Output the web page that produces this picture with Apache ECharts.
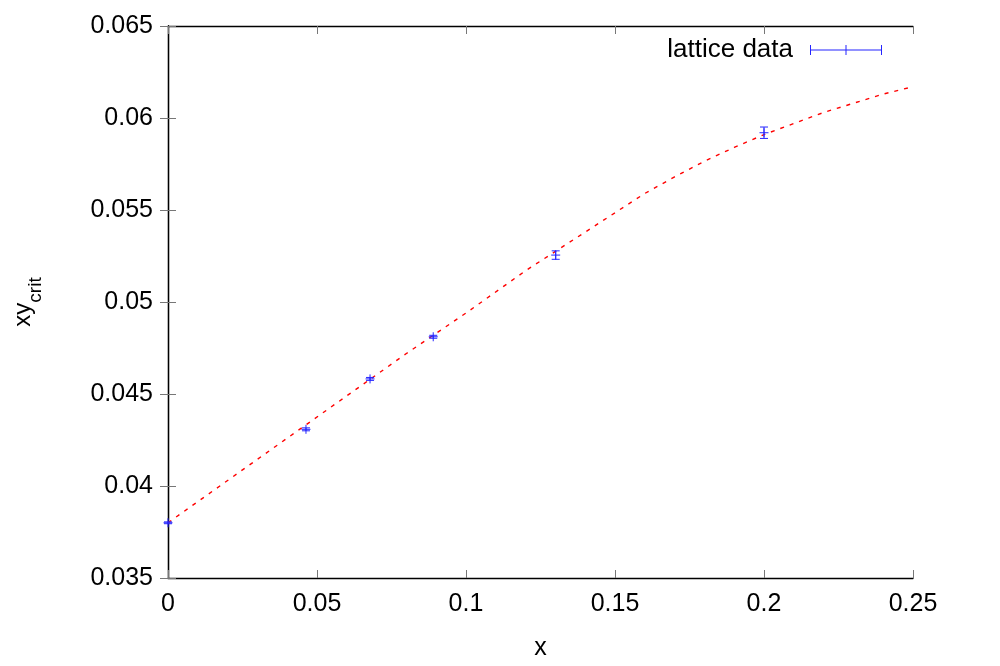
<!DOCTYPE html>
<html>
<head>
<meta charset="utf-8">
<script src="https://cdn.jsdelivr.net/npm/echarts@6/dist/echarts.min.js"></script>
<style>
  html, body { margin: 0; padding: 0; background: #fff; }
  #chart { width: 1000px; height: 666px; }
</style>
</head>
<body>
<div id="chart"></div>
<script>
// lattice points: x, xy_crit, error
var latticeX = [0, 0.0463, 0.0678, 0.0890, 0.1301, 0.2000];
var latticeY = [0.0380, 0.04308, 0.04582, 0.04811, 0.05255, 0.0592];
var latticeErr = [0.00005, 0.00008, 0.00008, 0.00008, 0.00023, 0.00031];

// fit curve
var fitX = [0, 0.02, 0.04, 0.06, 0.08, 0.10, 0.12, 0.14, 0.16, 0.17, 0.18, 0.19, 0.20, 0.22, 0.24, 0.25];
var fitY = [0.0380, 0.0403, 0.0426, 0.0449, 0.0472, 0.0494, 0.0517, 0.0538, 0.0559, 0.05680, 0.05765, 0.05840, 0.0591, 0.0603, 0.0613, 0.0617];

var xTicks = [0, 0.05, 0.1, 0.15, 0.2, 0.25];
var yTicks = [0.035, 0.04, 0.045, 0.05, 0.055, 0.06, 0.065];

var chart = echarts.init(document.getElementById('chart'));

var font = 'Liberation Sans, Arial, sans-serif';
var blue = '#2424ff';

var latticeData = latticeX.map(function (x, i) { return [x, latticeY[i], latticeErr[i]]; });
var fitData = fitX.map(function (x, i) { return [x, fitY[i]]; });

function renderErr(params, api) {
    var x = api.value(0), y = api.value(1), e = api.value(2);
    var c = api.coord([x, y]);
    var lo = api.coord([x, y - e]);
    var hi = api.coord([x, y + e]);
    var cap = 4, arm = 4.5;
    var st = { stroke: blue, lineWidth: 1 };
    return {
        type: 'group',
        children: [
            { type: 'line', shape: { x1: c[0], y1: lo[1], x2: c[0], y2: hi[1] }, style: st },
            { type: 'line', shape: { x1: c[0] - cap, y1: lo[1], x2: c[0] + cap, y2: lo[1] }, style: st },
            { type: 'line', shape: { x1: c[0] - cap, y1: hi[1], x2: c[0] + cap, y2: hi[1] }, style: st },
            { type: 'line', shape: { x1: c[0] - arm, y1: c[1], x2: c[0] + arm, y2: c[1] }, style: st },
            { type: 'line', shape: { x1: c[0], y1: c[1] - arm, x2: c[0], y2: c[1] + arm }, style: st }
        ]
    };
}

function fmt(v) { return String(+v.toFixed(3)); }

var tickStyle = { show: true, inside: true, length: 8, lineStyle: { color: '#777', width: 1 } };
var lineStyle = { show: true, lineStyle: { color: '#000', width: 1.3 } };
var labelFont = { fontFamily: font, fontSize: 25, color: '#000' };

var option = {
    backgroundColor: '#fff',
    animation: false,
    grid: { left: 168, right: 87, top: 26, bottom: 88, show: false },
    legend: {
        right: 113,
        top: 32,
        align: 'right',
        itemWidth: 72,
        itemHeight: 10,
        textStyle: { fontFamily: font, fontSize: 26, color: '#000', padding: [0, 12, 0, 0] },
        data: [{
            name: 'lattice data',
            icon: 'path://M0,4.5h72v1h-72z M0,0h1v10h-1z M35.5,0h1v10h-1z M71,0h1v10h-1z',
            itemStyle: { color: blue }
        }]
    },
    xAxis: [{
        type: 'value',
        min: 0, max: 0.25, interval: 0.05,
        name: 'x',
        nameLocation: 'middle',
        nameGap: 58,
        nameTextStyle: labelFont,
        axisLine: lineStyle,
        axisTick: tickStyle,
        splitLine: { show: false },
        axisLabel: Object.assign({ margin: 14, formatter: fmt }, labelFont)
    }, {
        type: 'value', position: 'top',
        min: 0, max: 0.25, interval: 0.05,
        axisLine: lineStyle, axisTick: tickStyle,
        axisLabel: { show: false }, splitLine: { show: false }
    }],
    yAxis: [{
        type: 'value',
        min: 0.035, max: 0.065, interval: 0.005,
        name: '{a|xy}{b|crit}',
        nameLocation: 'middle',
        nameRotate: 90,
        nameGap: 123,
        nameTextStyle: {
            fontFamily: font, color: '#000',
            rich: {
                a: { fontFamily: font, fontSize: 24, color: '#000', verticalAlign: 'top', lineHeight: 34 },
                b: { fontFamily: font, fontSize: 19, color: '#000', verticalAlign: 'bottom', lineHeight: 34, padding: [10, 0, 0, 0] }
            }
        },
        axisLine: lineStyle,
        axisTick: tickStyle,
        splitLine: { show: false },
        axisLabel: Object.assign({ margin: 15, formatter: fmt }, labelFont)
    }, {
        type: 'value', position: 'right',
        min: 0.035, max: 0.065, interval: 0.005,
        axisLine: lineStyle, axisTick: tickStyle,
        axisLabel: { show: false }, splitLine: { show: false }
    }],
    series: [{
        name: 'fit',
        type: 'line',
        data: fitData,
        smooth: false,
        showSymbol: false,
        symbol: 'none',
        lineStyle: { color: '#ff0000', width: 1.4, type: [4, 6] },
        z: 2
    }, {
        name: 'lattice data',
        type: 'custom',
        renderItem: renderErr,
        data: latticeData,
        itemStyle: { color: blue },
        clip: false,
        z: 3
    }]
};

chart.setOption(option);
</script>
</body>
</html>
